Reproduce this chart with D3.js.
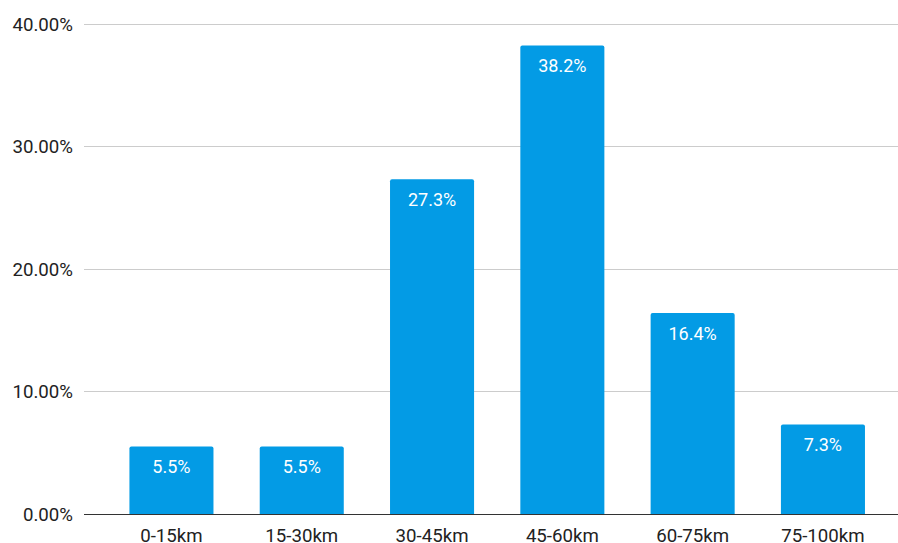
<!DOCTYPE html>
<html><head><meta charset="utf-8">
<script src="https://cdn.jsdelivr.net/npm/d3@7"></script>
<style>body{margin:0;background:#fff;overflow:hidden}svg{display:block}text{font-family:Roboto,"Liberation Sans",Arial,sans-serif}</style>
</head><body><svg id="c" width="898" height="543"></svg>
<script>
const categories = ["0-15km","15-30km","30-45km","45-60km","60-75km","75-100km"];
const values = [5.5, 5.5, 27.3, 38.2, 16.4, 7.3];
const yTicks = [0, 10, 20, 30, 40];

(function () {
const svg = d3.select("#c");
const plotL = 84, plotR = 898, plotTop = 23.5, base = 514;
const x = d3.scaleBand().domain(categories).range([106.3, 888.1]).paddingInner(0.355).paddingOuter(0.1775);
const y = d3.scaleLinear().domain([0, 40]).range([base, plotTop]);

// gridlines
svg.append("g").selectAll("line").data(yTicks.filter(d => d > 0)).join("line")
  .attr("x1", plotL).attr("x2", plotR)
  .attr("y1", d => Math.round(y(d)) + 0.5).attr("y2", d => Math.round(y(d)) + 0.5)
  .attr("stroke", "#cccccc").attr("stroke-width", 1);

// y labels
svg.append("g").selectAll("text").data(yTicks).join("text")
  .attr("x", 73).attr("y", d => y(d) + 7)
  .attr("text-anchor", "end").attr("font-size", 18.67).attr("fill", "#222")
  .text(d => d.toFixed(2) + "%");

// bars with rounded top corners
const r = 2;
svg.append("g").selectAll("path").data(values).join("path")
  .attr("fill", "#039be5")
  .attr("d", (d, i) => {
    const x0 = x(categories[i]), w = x.bandwidth(), yt = y(d), yb = y(0);
    return `M${x0},${yb}V${yt + r}Q${x0},${yt} ${x0 + r},${yt}H${x0 + w - r}Q${x0 + w},${yt} ${x0 + w},${yt + r}V${yb}Z`;
  });

// value labels
svg.append("g").selectAll("text").data(values).join("text")
  .attr("x", (d, i) => x(categories[i]) + x.bandwidth() / 2)
  .attr("y", d => y(d) + 26.7)
  .attr("text-anchor", "middle").attr("font-size", 18).attr("fill", "#fff")
  .text(d => d.toFixed(1) + "%");

// baseline
svg.append("line").attr("x1", plotL).attr("x2", plotR)
  .attr("y1", base + 0.5).attr("y2", base + 0.5).attr("stroke", "#333").attr("stroke-width", 1);

// x labels
svg.append("g").selectAll("text").data(categories).join("text")
  .attr("x", d => x(d) + x.bandwidth() / 2).attr("y", 541.5)
  .attr("text-anchor", "middle").attr("font-size", 18.67).attr("fill", "#222")
  .text(d => d);
})();
</script></body></html>
